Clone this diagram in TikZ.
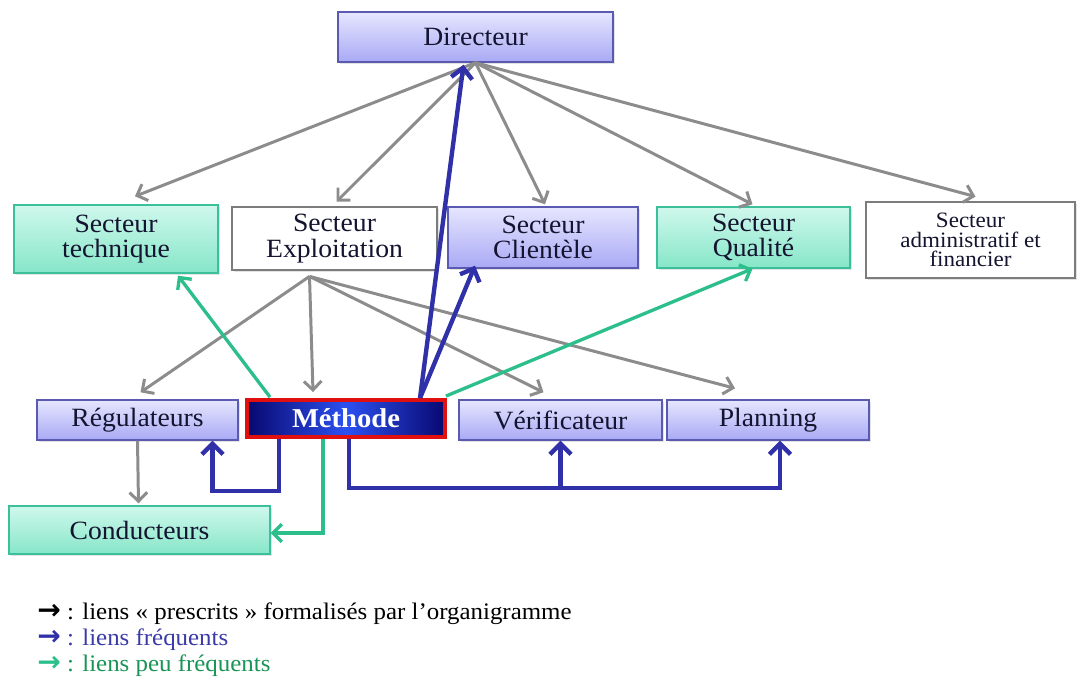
\documentclass[tikz,border=0pt]{standalone}
\usepackage{fontspec}
\setmainfont{Liberation Serif}[FakeStretch=1.05]
\newfontfamily\symfont{DejaVu Sans}
\usetikzlibrary{arrows.meta,calc,shadows}

\definecolor{lavtop}{HTML}{E6E6FF}
\definecolor{lavbot}{HTML}{A9A9F5}
\definecolor{lavedge}{HTML}{5A5AB0}
\definecolor{minttop}{HTML}{CFF8EC}
\definecolor{mintbot}{HTML}{86E6C8}
\definecolor{mintedge}{HTML}{3CC09C}
\definecolor{grayedge}{HTML}{7C7C7C}
\definecolor{arrgray}{HTML}{8C8C8C}
\definecolor{linkblue}{HTML}{3030A8}
\definecolor{linkgreen}{HTML}{2CBF8C}
\definecolor{navy}{HTML}{080870}
\definecolor{brightblue}{HTML}{2C50F0}
\definecolor{methred}{HTML}{E01010}
\definecolor{txtblue}{HTML}{3A3AA8}
\definecolor{txtgreen}{HTML}{1A9456}
\definecolor{boxtext}{HTML}{141430}

\tikzset{
  boxbase/.style={rectangle, align=center, inner sep=2pt, text=boxtext,
    font=\fontsize{15}{14.5}\selectfont,
    drop shadow={opacity=0.22, shadow xshift=1.2pt, shadow yshift=-1.2pt}},
  lav/.style={boxbase, top color=lavtop, bottom color=lavbot, draw=lavedge, line width=0.8pt},
  mint/.style={boxbase, top color=minttop, bottom color=mintbot, draw=mintedge, line width=0.8pt},
  plainbox/.style={boxbase, fill=white, draw=grayedge, line width=1.6pt},
  methbox/.style={rectangle, align=center, draw=methred, line width=2.2pt,
    left color=navy, right color=navy, middle color=brightblue,
    text=white, font=\fontsize{15.5}{16}\selectfont\bfseries},
  grayarr/.style={draw=arrgray, line width=1.7pt, -{Straight Barb[length=5pt,width=10pt]}},
  bluearr/.style={draw=linkblue, line width=2.5pt, line join=miter, -{Straight Barb[length=6pt,width=12pt]}},
  greenarr/.style={draw=linkgreen, line width=1.9pt, line join=miter, -{Straight Barb[length=5pt,width=10pt]}},
  legend/.style={anchor=west, inner sep=0pt, font=\fontsize{13.5}{14}\selectfont},
}
\newcommand{\legarrow}[1]{{\symfont\bfseries\fontsize{16}{16}\selectfont\color{#1}→}}

\begin{document}
\begin{tikzpicture}[x=0.02cm, y=-0.02cm]
\useasboundingbox (0,0) rectangle (1081,680);

% boxes
\node[lav, minimum width=5.5cm, minimum height=1.0cm] (dir) at (475.5,37) {Directeur};

\node[mint, minimum width=4.08cm, minimum height=1.36cm] (tech) at (116,239) {Secteur\\technique};
\node[plainbox, minimum width=4.1cm, minimum height=1.26cm] (expl) at (334.5,238.5) {Secteur\\Exploitation};
\node[lav, minimum width=3.8cm, minimum height=1.22cm] (cli) at (543,237.5) {Secteur\\Clientèle};
\node[mint, minimum width=3.86cm, minimum height=1.22cm] (qual) at (753.5,237.5) {Secteur\\Qualité};
\node[plainbox, minimum width=4.18cm, minimum height=1.52cm,
      font=\fontsize{12.5}{11}\selectfont] (adm) at (970.5,240) {Secteur\\administratif et\\financier};

\node[lav, minimum width=4.02cm, minimum height=0.8cm] (reg) at (137.5,420) {Régulateurs};
\node[methbox, minimum width=3.96cm, minimum height=0.74cm] (meth) at (346,418.5) {Méthode};
\node[lav, minimum width=4.06cm, minimum height=0.8cm] (ver) at (560.5,420) {Vérificateur};
\node[lav, minimum width=4.04cm, minimum height=0.8cm] (plan) at (768,420) {Planning};

\node[mint, minimum width=5.22cm, minimum height=0.96cm] (cond) at (139.5,530) {Conducteurs};

% prescribed links from the director
\draw[grayarr] (dir.south) -- ($(tech.north)+(19,-8)$);
\draw[grayarr] (dir.south) -- ($(expl.north)+(2,-4)$);
\draw[grayarr] (dir.south) -- ($(cli.north)+(2,-2)$);
\draw[grayarr] (dir.south) -- ($(qual.north)+(-1,-2)$);
\draw[grayarr] (dir.south) -- ($(adm.north)+(5,-4)$);

% prescribed links from the operations sector
\coordinate (ex) at ($(expl.south)+(-25,5)$);
\draw[grayarr] (ex) -- ($(reg.north)+(3,-7)$);
\draw[grayarr] (ex) -- ($(meth.north)+(-33,-6)$);
\draw[grayarr] (ex) -- ($(ver.north)+(-17,-7)$);
\draw[grayarr] (ex) -- ($(plan.north)+(-33,-11)$);
\draw[grayarr] (reg.south) -- ($(cond.north)+(-1,-2)$);

% frequent links
\draw[bluearr] ($(meth.north)+(74,0)$) -- ($(dir.south)+(-12,2)$);
\draw[bluearr] ($(meth.north)+(74,0)$) -- ($(cli.south)+(-68,-3)$);
\draw[bluearr] ($(meth.south)+(-67,0)$) -- ++(0,52) -| ($(reg.south)+(75,0)$);
\draw[bluearr] ($(meth.south)+(3,0)$) -- ++(0,49) coordinate (bus) -| ($(plan.south)+(12,0)$);
\draw[bluearr] (bus -| ver.south) -- (ver.south);

% occasional links
\draw[greenarr] ($(meth.north)+(-76,-1)$) -- ($(tech.south)+(62,2)$);
\draw[greenarr] ($(meth.north east)+(-1,-2)$) -- ($(qual.south)+(-1,0)$);
\draw[greenarr] ($(meth.south)+(-23,0)$) |- ($(cond.east)+(0,3)$);

% legend
\node[legend] (l1) at (37,614) {\legarrow{black} : liens « prescrits » formalisés par l’organigramme};
\node[legend, text=txtblue] (l2) at (37,640) {\legarrow{linkblue} : liens fréquents};
\node[legend, text=txtgreen] (l3) at (37,666) {\legarrow{linkgreen} : liens peu fréquents};
\end{tikzpicture}
\end{document}
